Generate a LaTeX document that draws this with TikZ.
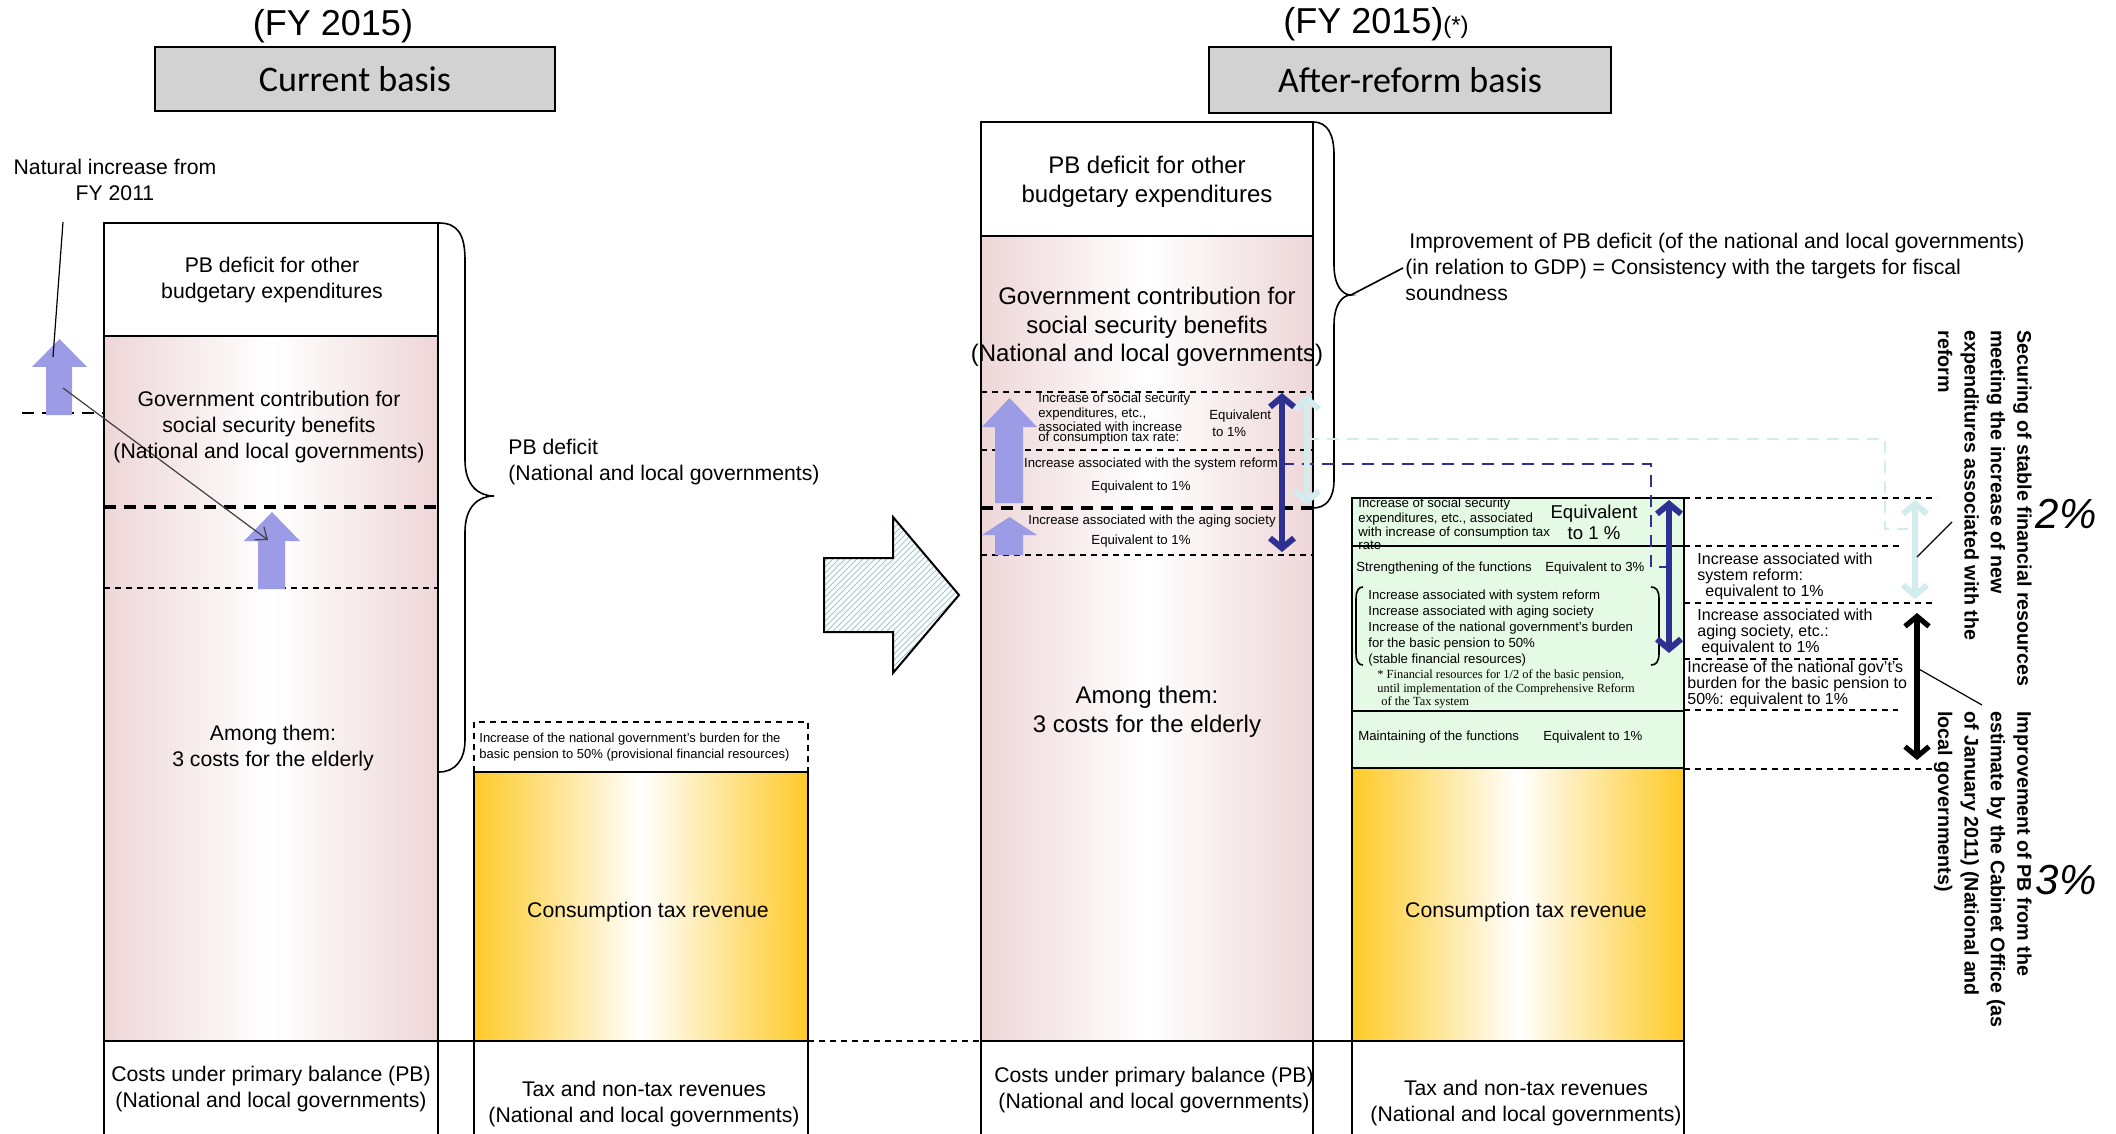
\documentclass[tikz,border=0pt]{standalone}
\usepackage{fontspec}
\setmainfont{Liberation Sans}
\newfontfamily\carlito{Carlito}
\newfontfamily\notefont{Liberation Serif}
\usetikzlibrary{arrows.meta,patterns}
\definecolor{pinkbar}{HTML}{EED6D8}
\definecolor{goldbar}{HTML}{FFCA28}
\definecolor{greenbox}{HTML}{E4FAE4}
\definecolor{navyarr}{HTML}{2E3192}
\definecolor{cyanarr}{HTML}{D3ECEE}
\definecolor{blockblue}{HTML}{9C9CE6}
\definecolor{titlegray}{HTML}{D2D2D2}
\definecolor{hatchcyan}{HTML}{8FCFD9}

\begin{document}
\begin{tikzpicture}[x=0.5pt, y=-0.5pt,
    lbl/.style={font=\fontsize{10.6}{12.8}\selectfont, align=center, inner sep=0pt},
    maintext/.style={font=\fontsize{12}{14.3}\selectfont, align=center, inner sep=0pt},
    tinytext/.style={font=\fontsize{6.6}{8}\selectfont, align=left, inner sep=0pt},
    tighttext/.style={font=\fontsize{6.6}{5.2}\selectfont, align=left, inner sep=0pt},
    sidetext/.style={font=\fontsize{8}{8}\selectfont, align=left, inner sep=0pt},
    vertext/.style={font=\fontsize{9.85}{13.2}\selectfont\bfseries, align=left, inner sep=0pt, rotate=-90, anchor=north west},
    pct/.style={font=\fontsize{21}{24}\selectfont\itshape, inner sep=0pt},
    fytitle/.style={font=\fontsize{18}{21}\selectfont, inner sep=0pt},
    basis/.style={draw, line width=1pt, fill=titlegray, inner sep=0pt, font=\carlito\fontsize{18}{21}\selectfont},
    colline/.style={line width=1pt},
    thindash/.style={dash pattern=on 3pt off 2.5pt, line width=0.6pt},
    thickdash/.style={dash pattern=on 6pt off 4pt, line width=1.6pt},
    fatup/.style={fill=blockblue},
    dblnavy/.style={line width=3pt, draw=navyarr, {Straight Barb[length=5pt,width=12pt]}-{Straight Barb[length=5pt,width=12pt]}},
    dblcyan/.style={line width=3pt, draw=cyanarr, {Straight Barb[length=5pt,width=12pt]}-{Straight Barb[length=5pt,width=12pt]}},
    dblblack/.style={line width=2.6pt, draw=black, {Straight Barb[length=5pt,width=12pt]}-{Straight Barb[length=5pt,width=12pt]}},
    leader/.style={line width=0.6pt}
]
\useasboundingbox (0,0) rectangle (2116,1134);

% ---- headings
\node[fytitle] (fyL) at (333,26) {(FY 2015)};
\node[basis, minimum width=200pt, minimum height=32pt] (curB) at (355,79) {Current basis};
\node[fytitle] (fyR) at (1376,24) {(FY 2015){\fontsize{12}{14}\selectfont(*)}};
\node[basis, minimum width=201pt, minimum height=33pt] (aftB) at (1410,80) {After-reform basis};

% ---- fills
\shade[left color=pinkbar, right color=pinkbar, middle color=white] (104,336) rectangle (438,1041);
\shade[left color=goldbar, right color=goldbar, middle color=white] (474,772) rectangle (808,1041);
\shade[left color=pinkbar, right color=pinkbar, middle color=white] (981,236) rectangle (1313,1041);
\fill[greenbox] (1352,498) rectangle (1684,768);
\shade[left color=goldbar, right color=goldbar, middle color=white] (1352,768) rectangle (1684,1041);

% ---- dashed dividers
\draw[thickdash] (104,507) -- (438,507);
\draw[thindash] (104,588) -- (438,588);
\draw[thickdash, line width=1pt] (22,413) -- (104,413);
\draw[thindash] (474,772) -- (474,722) -- (808,722) -- (808,772);
\draw[thindash] (981,392) -- (1313,392);
\draw[thindash] (981,450) -- (1313,450);
\draw[thickdash] (981,508) -- (1313,508);
\draw[thindash] (981,555) -- (1313,555);
\draw[thindash] (808,1041) -- (981,1041);
\foreach \yy/\xx in {498/1937, 546/1900, 603/1933, 659/1898, 710/1898, 769/1937}
  \draw[thindash] (1684,\yy) -- (\xx,\yy);

% ---- block arrows
\fill[fatup] (46,415) -- (46,367) -- (32,367) -- (59.5,339) -- (87,367) -- (72,367) -- (72,415) -- cycle;
\fill[fatup] (258,589) -- (258,541) -- (244,541) -- (272,512) -- (300,541) -- (285,541) -- (285,589) -- cycle;
\fill[fatup] (995,503) -- (995,427) -- (982,427) -- (1009.5,398) -- (1037,427) -- (1023,427) -- (1023,503) -- cycle;
\fill[fatup] (995,555) -- (995,535) -- (982,535) -- (1009.5,517) -- (1037,535) -- (1023,535) -- (1023,555) -- cycle;
\fill[white] (824,558) -- (893,558) -- (893,517) -- (959,595) -- (893,673) -- (893,632) -- (824,632) -- cycle;
\fill[pattern=north east lines, pattern color=hatchcyan] (824,558) -- (893,558) -- (893,517) -- (959,595) -- (893,673) -- (893,632) -- (824,632) -- cycle;
\draw[line width=1pt] (824,558) -- (893,558) -- (893,517) -- (959,595) -- (893,673) -- (893,632) -- (824,632) -- cycle;

% ---- column borders
\draw[colline] (104,1134) |- (438,223) -- (438,1134);
\draw[colline] (104,336) -- (438,336);
\draw[colline] (474,1134) -- (474,772) -- (808,772) -- (808,1134);
\draw[colline] (104,1041) -- (808,1041);
\draw[colline] (981,1134) |- (1313,122) -- (1313,1134);
\draw[colline] (981,236) -- (1313,236);
\draw[colline] (1352,1134) |- (1684,498) -- (1684,1134);
\draw[colline] (1352,546) -- (1684,546);
\draw[colline] (1352,711) -- (1684,711);
\draw[colline] (1352,768) -- (1684,768);
\draw[colline] (981,1041) -- (1684,1041);

% ---- braces
\draw[line width=0.8pt] (439,223) .. controls (458,223) and (465,235) .. (465,260) -- (465,460)
  .. controls (465,485) and (478,496) .. (494,496) .. controls (478,496) and (465,507) .. (465,532)
  -- (465,740) .. controls (465,760) and (455,772) .. (439,772);
\draw[line width=0.8pt] (1313,122) .. controls (1328,122) and (1334,135) .. (1334,155) -- (1334,265)
  .. controls (1334,285) and (1342,295) .. (1351,295) .. controls (1342,295) and (1334,305) .. (1334,325)
  -- (1334,480) .. controls (1334,500) and (1325,508) .. (1313,508);
\draw[line width=0.8pt] (1356,599) .. controls (1356,590) and (1359,587) .. (1363,587);
\draw[line width=0.8pt] (1356,599) -- (1356,653) .. controls (1356,662) and (1359,665) .. (1363,665);
\draw[line width=0.8pt] (1651,587) .. controls (1656,587) and (1659,590) .. (1659,599) -- (1659,653)
  .. controls (1659,662) and (1656,665) .. (1651,665);

% ---- connectors
\coordinate (natTop) at (63,222);
\coordinate (natBot) at (53,357);
\coordinate (mvFrom) at (63,388);
\coordinate (mvTo) at (268,540);
\coordinate (brTip) at (1351,295);
\coordinate (impEnd) at (1403,268);
\coordinate (cyA) at (1307,439);
\coordinate (cyC) at (1885,529);
\coordinate (cyD) at (1908,529);
\coordinate (nvA) at (1282,464);
\coordinate (nvC) at (1651,567);
\coordinate (nvD) at (1666,567);
\draw[leader] (natTop) -- (natBot);
\draw[leader, draw=black!75, -{Straight Barb[length=5pt,width=8pt]}] (mvFrom) -- (mvTo);
\draw[leader, line width=0.8pt] (brTip) -- (impEnd);
\draw[cyanarr, line width=1.3pt, dash pattern=on 6pt off 4pt] (cyA) -| (cyC) -- (cyD);
\draw[navyarr, line width=1.3pt, dash pattern=on 6pt off 4pt] (nvA) -| (nvC) -- (nvD);

\coordinate (nv1a) at (1282,393);
\coordinate (nv1b) at (1282,552);
\coordinate (cy1a) at (1307,395);
\coordinate (cy1b) at (1307,505);
\coordinate (nv2a) at (1669,500);
\coordinate (nv2b) at (1669,653);
\coordinate (cy2a) at (1915,500);
\coordinate (cy2b) at (1915,599);
\coordinate (bk1a) at (1917,613);
\coordinate (bk1b) at (1917,760);
\draw[dblcyan] (cy1a) -- (cy1b);
\draw[dblnavy] (nv1a) -- (nv1b);
\draw[dblnavy] (nv2a) -- (nv2b);
\draw[dblcyan] (cy2a) -- (cy2b);
\draw[dblblack] (bk1a) -- (bk1b);
\coordinate (secFrom) at (1917,557);
\coordinate (secTo) at (1952,522);
\coordinate (impFrom) at (1917,668);
\coordinate (impTo) at (1982,705);
\draw[leader] (secFrom) -- (secTo);
\draw[leader] (impFrom) -- (impTo);

% ---- current basis texts
\node[lbl] (natural) at (115,180) {Natural increase from\\FY 2011};
\node[lbl] (pbotherL) at (272,280) {PB deficit for other\\budgetary expenditures};
\node[lbl] (govL) at (269,427) {Government contribution for\\social security benefits\\(National and local governments)};
\node[lbl] (amongL) at (273,748) {Among them:\\3 costs for the elderly};
\node[lbl, align=left, anchor=west] (pbdefL) at (508,462) {PB deficit\\(National and local governments)};
\node[font=\fontsize{6.5}{8}\selectfont, align=left, inner sep=0pt, anchor=west] (provL) at (479,747) {Increase of the national government’s burden for the\\basic pension to 50\% (provisional financial resources)};
\node[lbl] (ctaxL) at (648,912) {Consumption tax revenue};
\node[lbl] (costL) at (271,1089) {Costs under primary balance (PB)\\(National and local governments)};
\node[lbl] (taxL) at (644,1104) {Tax and non-tax revenues\\(National and local governments)};

% ---- after-reform texts
\node[maintext] (pbotherR) at (1147,182) {PB deficit for other\\budgetary expenditures};
\node[maintext] (govR) at (1147,327) {Government contribution for\\social security benefits\\(National and local governments)};
\node[tighttext, anchor=west] (incR) at (1038,419) {Increase of social security\\expenditures, etc.,\\associated with increase\\of consumption tax rate:};
\node[tinytext, font=\fontsize{6.6}{8.5}\selectfont, anchor=west] (eqR1) at (1209,423) {Equivalent\\\hspace{1.5pt}to 1\%};
\node[tinytext] (sysR) at (1151,464) {Increase associated with the system reform};
\node[tinytext] (eqR2) at (1141,487) {Equivalent to 1\%};
\node[tinytext] (ageR) at (1152,521) {Increase associated with the aging society};
\node[tinytext] (eqR3) at (1141,541) {Equivalent to 1\%};
\node[maintext] (amongR) at (1147,712) {Among them:\\3 costs for the elderly};
\node[lbl] (costR) at (1154,1090) {Costs under primary balance (PB)\\(National and local governments)};
\node[lbl] (ctaxR) at (1526,912) {Consumption tax revenue};
\node[lbl] (taxR) at (1526,1103) {Tax and non-tax revenues\\(National and local governments)};

\node[tighttext, anchor=west] (incG) at (1358,524) {Increase of social security\\expenditures, etc., associated\\with increase of consumption tax\\rate};
\node[font=\fontsize{9.3}{10.5}\selectfont, align=center, inner sep=0pt] (eqG) at (1594,522) {Equivalent\\to 1 \%};
\node[tinytext, anchor=west] (strG) at (1356,568) {Strengthening of the functions};
\node[tinytext, anchor=west] (strEq) at (1545,568) {Equivalent to 3\%};
\node[tinytext, anchor=west] (listG) at (1368,628) {Increase associated with system reform\\Increase associated with aging society\\Increase of the national government’s burden\\for the basic pension to 50\%\\(stable financial resources)};
\node[font=\notefont\fontsize{6.2}{5.3}\selectfont, align=left, inner sep=0pt, anchor=west] (noteG) at (1377,689) {* Financial resources for 1/2 of the basic pension,\\until implementation of the Comprehensive Reform\\\hspace{2pt}of the Tax system};
\node[tinytext, anchor=west] (mntG) at (1358,737) {Maintaining of the functions};
\node[tinytext, anchor=west] (mntEq) at (1543,737) {Equivalent to 1\%};

\node[sidetext, anchor=west] (sysS) at (1697,576) {Increase associated with\\system reform:\\\hspace{4pt}equivalent to 1\%};
\node[sidetext, anchor=west] (ageS) at (1697,632) {Increase associated with\\aging society, etc.:\\\hspace{2pt}equivalent to 1\%};
\node[sidetext, anchor=west] (natS) at (1687,684) {Increase of the national gov’t’s\\burden for the basic pension to\\50\%: equivalent to 1\%};

\node[lbl, align=left, anchor=west] (impPB) at (1405,267) {\hspace{2pt}Improvement of PB deficit (of the national and local governments)\\(in relation to GDP) = Consistency with the targets for fiscal\\soundness};

\node[vertext] (secur) at (2032,330) {Securing of stable financial resources\\meeting the increase of new\\expenditures associated with the\\reform};
\node[vertext] (imprv) at (2032,711) {Improvement of PB from the\\estimate by the Cabinet Office (as\\of January 2011) (National and\\local governments)};
\node[pct] (two) at (2066,514) {2\%};
\node[pct] (three) at (2066,880) {3\%};
\end{tikzpicture}
\end{document}
